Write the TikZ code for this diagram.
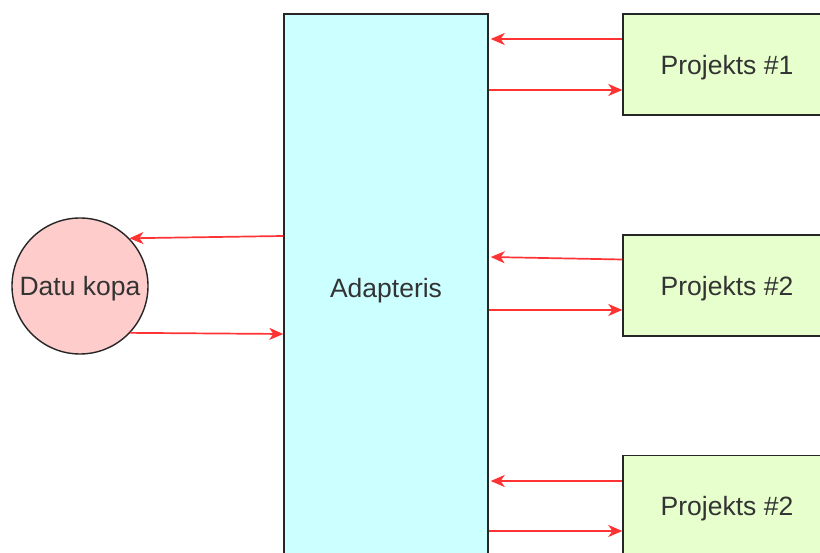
\documentclass[tikz,border=0pt]{standalone}
\usepackage{fontspec}
\setmainfont{Liberation Sans}
\usetikzlibrary{arrows.meta}
\definecolor{cfill}{HTML}{FFCCCC}
\definecolor{afill}{HTML}{CCFFFF}
\definecolor{pfill}{HTML}{E6FFCC}
\definecolor{lred}{HTML}{FF3333}
\definecolor{txt}{HTML}{333333}
\begin{document}
\begin{tikzpicture}[x=1pt,y=-1pt,
  every node/.style={font=\fontsize{26.5}{30}\selectfont, text=txt, text depth=0pt},
  proj/.style={draw=black!85, line width=1.4pt, fill=pfill, minimum width=208pt, minimum height=101pt, inner sep=0pt},
  arr/.style={draw=lred, line width=1.7pt, -{Stealth[length=14pt,width=12pt,inset=4pt]}}]
\useasboundingbox (0,0) rectangle (820,553);
\clip (0,0) rectangle (820,553);
\fill[white] (0,0) rectangle (820,553);
\node[draw=black!85, line width=1.4pt, fill=afill, minimum width=204pt, minimum height=548pt, inner sep=0pt] (ad) at (386,288) {Adapteris};
\node[circle, draw=black!85, line width=1.4pt, fill=cfill, minimum size=136pt, inner sep=0pt] (dk) at (80,286) {Datu kopa};
\node[proj] (p1) at (727,64.5) {Projekts \#1};
\node[proj] (p2) at (727,285.5) {Projekts \#2};
\node[proj] (p3) at (727,506) {Projekts \#2};
% project arrows
\draw[arr] (p1.west |- {(0,39)}) -- ([xshift=2pt]ad.east |- {(0,39)});
\draw[arr] (ad.east |- {(0,90)}) -- (p1.west |- {(0,90)});
\draw[arr] (p2.west |- {(0,259.5)}) -- ([xshift=2pt]ad.east |- {(0,257)});
\draw[arr] (ad.east |- {(0,310)}) -- (p2.west |- {(0,310)});
\draw[arr] (p3.west |- {(0,481)}) -- ([xshift=2pt]ad.east |- {(0,481)});
\draw[arr] (ad.east |- {(0,531)}) -- (p3.west |- {(0,531)});
% circle arrows
\draw[arr] (ad.west |- {(0,236)}) -- (dk.44);
\draw[arr] (dk.-43) -- (ad.west |- {(0,334)});
\end{tikzpicture}
\end{document}
